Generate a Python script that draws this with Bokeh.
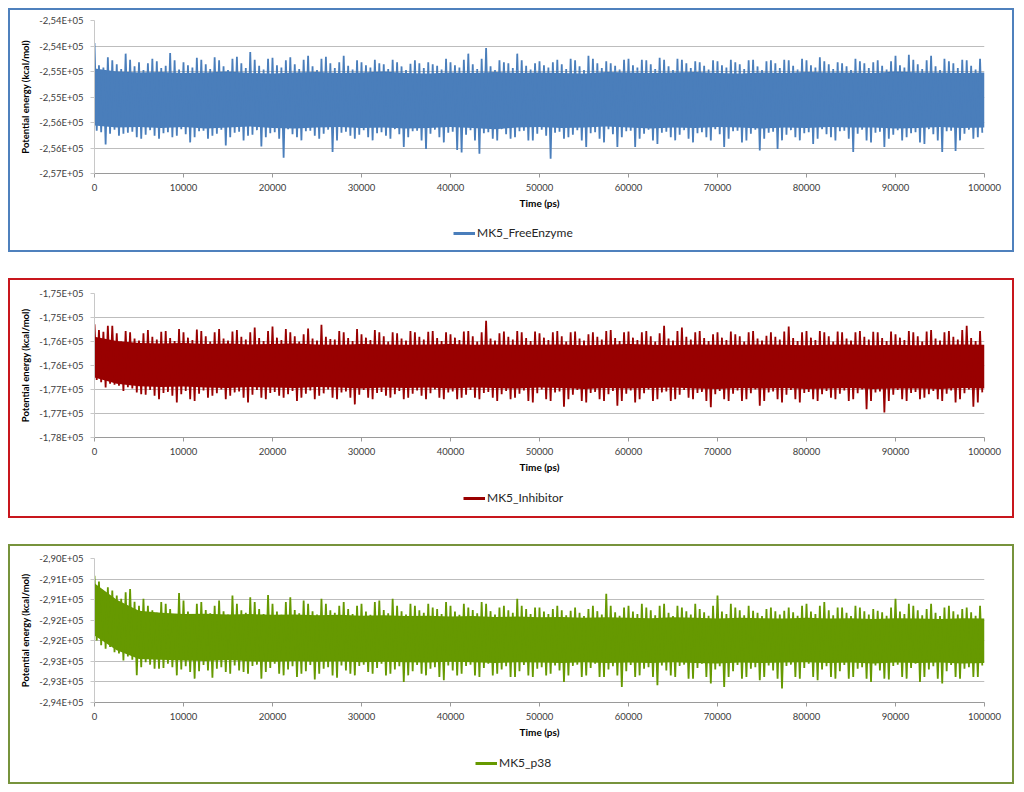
from bokeh.plotting import figure
from bokeh.layouts import column, row
from bokeh.models import Range1d, FixedTicker, Legend, LegendItem, Spacer
from bokeh.embed import file_html
from bokeh.resources import INLINE

# ---------------- data ----------------
time_ticks = [0, 10000, 20000, 30000, 40000, 50000, 60000, 70000, 80000, 90000, 100000]
time_tick_labels = ["0", "10000", "20000", "30000", "40000", "50000",
                    "60000", "70000", "80000", "90000", "100000"]

# one upward and one downward excursion per 500 ps
step_start = list(range(0, 100000, 500))

# dense core of each trace, sampled every 2500 ps
core_time = list(range(0, 100001, 2500))

# --- MK5_FreeEnzyme ---
free_name = "MK5_FreeEnzyme"
free_hi = [-253940, -254380, -254420, -254220, -254280, -254360, -254450, -254150, -254270, -254400,
           -254320, -254470, -254340, -254250, -254300, -254430, -254390, -254140, -254280, -254460,
           -254320, -254380, -254420, -254230, -254270, -254360, -254450, -254220, -254280, -254400,
           -254470, -254250, -254210, -254340, -254430, -254120, -254270, -254390, -254460, -254250,
           -254230, -254380, -254420, -254280, -254220, -254360, -254450, -254270, -254190, -254400,
           -254470, -254250, -254210, -254340, -254430, -254320, -254190, -254390, -254460, -254280,
           -254320, -254380, -254420, -254270, -254340, -254360, -254450, -254270, -254320, -254400,
           -254470, -254350, -254280, -254340, -254430, -254320, -254360, -254390, -254460, -254250,
           -254320, -254380, -254420, -254270, -254150, -254360, -254450, -254250, -254040, -254400,
           -254470, -254280, -254320, -254340, -254430, -254150, -254280, -254390, -254460, -254340,
           -254300, -254380, -254420, -254320, -254270, -254360, -254450, -254250, -254280, -254400,
           -254470, -254190, -254250, -254340, -254430, -254300, -254340, -254390, -254460, -254270,
           -254250, -254380, -254420, -254270, -254280, -254360, -254450, -254230, -254270, -254400,
           -254470, -254250, -254270, -254340, -254430, -254300, -254320, -254390, -254460, -254280,
           -254300, -254380, -254420, -254270, -254320, -254360, -254450, -254280, -254270, -254400,
           -254470, -254300, -254280, -254340, -254430, -254270, -254280, -254390, -254460, -254250,
           -254280, -254380, -254420, -254220, -254300, -254360, -254450, -254320, -254340, -254400,
           -254470, -254250, -254300, -254340, -254430, -254320, -254280, -254390, -254460, -254300,
           -254190, -254380, -254420, -254170, -254270, -254360, -254450, -254280, -254190, -254400,
           -254470, -254250, -254300, -254340, -254430, -254270, -254280, -254390, -254460, -254250]
free_lo = [-255660, -255690, -255930, -255720, -255640, -255760, -255720, -255700, -255680, -255790,
           -255820, -255740, -255650, -255760, -255820, -255710, -255690, -255790, -255760, -255630,
           -255730, -255890, -255790, -255670, -255660, -255820, -255760, -255720, -255640, -255950,
           -255790, -255700, -255680, -255850, -255760, -255740, -255650, -255970, -255790, -255710,
           -255690, -255820, -256190, -255630, -255730, -255790, -255850, -255670, -255660, -255760,
           -255820, -255720, -255640, -256080, -255850, -255700, -255680, -255760, -255820, -255740,
           -255650, -255790, -255850, -255710, -255690, -255760, -255820, -255630, -255730, -255980,
           -255790, -255670, -255660, -255850, -256020, -255720, -255640, -255790, -255890, -255700,
           -255680, -256040, -256090, -255740, -255650, -255850, -256110, -255710, -255690, -255820,
           -255850, -255630, -255730, -255820, -255790, -255670, -255660, -255850, -255850, -255720,
           -255640, -255760, -256210, -255700, -255680, -255820, -255790, -255740, -255650, -255850,
           -255980, -255710, -255690, -255820, -255890, -255630, -255730, -255980, -255790, -255670,
           -255660, -255980, -255820, -255720, -255640, -255850, -255920, -255700, -255680, -255790,
           -255850, -255740, -255650, -255820, -255890, -255710, -255690, -255790, -255850, -255630,
           -255730, -255980, -255820, -255670, -255660, -255890, -255850, -255720, -255640, -256050,
           -255820, -255700, -255680, -256020, -255850, -255740, -255650, -255790, -255850, -255710,
           -255690, -255920, -255820, -255630, -255730, -255790, -255850, -255670, -255660, -255820,
           -256080, -255720, -255640, -255850, -255890, -255700, -255680, -255980, -255820, -255740,
           -255650, -255850, -255790, -255710, -255690, -255890, -255920, -255630, -255730, -255850,
           -256080, -255670, -255660, -256060, -255850, -255720, -255640, -255820, -255790, -255700]
free_core_top = [-254440, -254500, -254520, -254510, -254530, -254520, -254500, -254530, -254540, -254520,
                 -254510, -254530, -254520, -254500, -254530, -254540, -254520, -254530, -254510, -254530,
                 -254520, -254530, -254540, -254510, -254520, -254530, -254520, -254510, -254530, -254540,
                 -254520, -254530, -254510, -254520, -254520, -254530, -254500, -254520, -254520, -254530,
                 -254520]
free_core_bottom = [-255560, -255600, -255590, -255610, -255590, -255620, -255600, -255580, -255610, -255620,
                    -255600, -255590, -255610, -255600, -255620, -255610, -255590, -255610, -255630, -255600,
                    -255590, -255610, -255600, -255580, -255600, -255620, -255600, -255610, -255590, -255600,
                    -255620, -255600, -255610, -255590, -255600, -255600, -255620, -255610, -255590, -255610,
                    -255600]
free_y_ticks = [-256500, -256000, -255500, -255000, -254500, -254000, -253500]
free_y_labels = ["-2,57E+05", "-2,56E+05", "-2,56E+05", "-2,55E+05", "-2,55E+05", "-2,54E+05", "-2,54E+05"]

# --- MK5_Inhibitor ---
inh_name = "MK5_Inhibitor"
inh_hi = [-175140, -175260, -175300, -175170, -175170, -175330, -175500, -175280, -175310, -175440,
          -175480, -175330, -175260, -175400, -175460, -175300, -175280, -175430, -175490, -175240,
          -175310, -175420, -175470, -175250, -175280, -175390, -175500, -175310, -175240, -175440,
          -175480, -175290, -175260, -175400, -175460, -175310, -175210, -175430, -175490, -175280,
          -175190, -175420, -175470, -175240, -175310, -175390, -175500, -175350, -175230, -175440,
          -175480, -175150, -175400, -175450, -175460, -175280, -175310, -175430, -175490, -175240,
          -175350, -175420, -175470, -175260, -175310, -175390, -175500, -175310, -175330, -175440,
          -175480, -175280, -175310, -175400, -175460, -175300, -175280, -175430, -175490, -175310,
          -175350, -175420, -175470, -175290, -175280, -175390, -175500, -175310, -175070, -175440,
          -175480, -175330, -175290, -175400, -175460, -175280, -175310, -175430, -175490, -175290,
          -175330, -175420, -175470, -175310, -175280, -175390, -175500, -175310, -175290, -175440,
          -175480, -175350, -175310, -175400, -175460, -175280, -175260, -175430, -175490, -175310,
          -175290, -175420, -175470, -175310, -175280, -175390, -175500, -175330, -175170, -175440,
          -175480, -175280, -175210, -175400, -175460, -175310, -175280, -175430, -175490, -175350,
          -175310, -175420, -175470, -175290, -175350, -175390, -175500, -175310, -175280, -175440,
          -175480, -175380, -175310, -175400, -175460, -175290, -175190, -175430, -175490, -175310,
          -175280, -175420, -175470, -175280, -175310, -175390, -175500, -175290, -175310, -175440,
          -175480, -175310, -175280, -175400, -175460, -175300, -175310, -175430, -175490, -175290,
          -175350, -175420, -175470, -175280, -175310, -175390, -175500, -175290, -175260, -175440,
          -175480, -175310, -175280, -175400, -175460, -175260, -175170, -175430, -175490, -175280]
inh_lo = [-176300, -176350, -176460, -176380, -176400, -176420, -176530, -176450, -176480, -176560,
          -176600, -176610, -176510, -176630, -176700, -176570, -176550, -176630, -176770, -176600,
          -176530, -176700, -176740, -176590, -176520, -176670, -176630, -176580, -176500, -176700,
          -176630, -176560, -176540, -176670, -176770, -176610, -176510, -176670, -176700, -176570,
          -176550, -176630, -176670, -176600, -176530, -176740, -176670, -176590, -176520, -176700,
          -176630, -176580, -176500, -176670, -176700, -176560, -176540, -176670, -176810, -176610,
          -176510, -176670, -176700, -176570, -176550, -176630, -176670, -176600, -176530, -176700,
          -176670, -176590, -176520, -176630, -176700, -176580, -176500, -176670, -176700, -176560,
          -176540, -176700, -176670, -176610, -176510, -176670, -176700, -176570, -176550, -176670,
          -176740, -176600, -176530, -176700, -176670, -176590, -176520, -176740, -176770, -176580,
          -176500, -176700, -176740, -176560, -176540, -176860, -176700, -176610, -176510, -176740,
          -176770, -176570, -176550, -176700, -176740, -176600, -176530, -176840, -176740, -176590,
          -176520, -176770, -176700, -176580, -176500, -176740, -176700, -176560, -176540, -176740,
          -176700, -176610, -176510, -176670, -176700, -176570, -176550, -176740, -176870, -176600,
          -176530, -176700, -176740, -176590, -176520, -176740, -176700, -176580, -176500, -176840,
          -176740, -176560, -176540, -176700, -176770, -176610, -176510, -176700, -176770, -176570,
          -176550, -176700, -176740, -176600, -176530, -176670, -176700, -176590, -176520, -176740,
          -176700, -176580, -176500, -176910, -176740, -176560, -176540, -176980, -176740, -176610,
          -176510, -176700, -176740, -176570, -176550, -176700, -176670, -176600, -176530, -176700,
          -176740, -176590, -176520, -176770, -176700, -176580, -176500, -176860, -176770, -176560]
inh_core_top = [-175400, -175490, -175530, -175540, -175530, -175550, -175540, -175560, -175550, -175540,
                -175560, -175570, -175550, -175560, -175570, -175560, -175550, -175570, -175560, -175570,
                -175570, -175560, -175580, -175570, -175550, -175570, -175580, -175560, -175570, -175570,
                -175560, -175570, -175580, -175570, -175560, -175580, -175570, -175580, -175570, -175560,
                -175570]
inh_core_bottom = [-176250, -176380, -176430, -176450, -176440, -176460, -176470, -176450, -176460, -176470,
                   -176450, -176460, -176480, -176460, -176470, -176460, -176480, -176460, -176470, -176480,
                   -176460, -176470, -176490, -176470, -176480, -176470, -176460, -176480, -176490, -176470,
                   -176480, -176470, -176490, -176480, -176470, -176490, -176480, -176480, -176490, -176470,
                   -176480]
inh_y_ticks = [-177500, -177000, -176500, -176000, -175500, -175000, -174500]
inh_y_labels = ["-1,78E+05", "-1,77E+05", "-1,77E+05", "-1,76E+05", "-1,76E+05", "-1,75E+05", "-1,75E+05"]

# --- MK5_p38 ---
p38_name = "MK5_p38"
p38_hi = [-290420, -290560, -290820, -290700, -290780, -290900, -290980, -290820, -290740, -291050,
          -291150, -290980, -291150, -291260, -291320, -291060, -291100, -291230, -291350, -290840,
          -291020, -291290, -291370, -291100, -291060, -291250, -291330, -291150, -291020, -291280,
          -291360, -290900, -291100, -291260, -291320, -290940, -291060, -291230, -291350, -290890,
          -291100, -291290, -291370, -291060, -290940, -291250, -291330, -291020, -291100, -291280,
          -291360, -290980, -291100, -291260, -291320, -291150, -291060, -291230, -291350, -291150,
          -291100, -291290, -291370, -291060, -291020, -291250, -291330, -290980, -291150, -291280,
          -291360, -291100, -291150, -291260, -291320, -291100, -291190, -291230, -291350, -291060,
          -291150, -291290, -291370, -291100, -291190, -291250, -291330, -291060, -291100, -291280,
          -291360, -291190, -291150, -291260, -291320, -290980, -291150, -291230, -291350, -291190,
          -291190, -291290, -291350, -291230, -291150, -291260, -291380, -291270, -291190, -291320,
          -291400, -291230, -291150, -291280, -291360, -290860, -291150, -291310, -291390, -291190,
          -291150, -291290, -291350, -291100, -291190, -291260, -291380, -291150, -291100, -291320,
          -291400, -291150, -291190, -291280, -291360, -291100, -291230, -291310, -291390, -291150,
          -290900, -291290, -291350, -291100, -291190, -291260, -291380, -291150, -291270, -291320,
          -291400, -291230, -291190, -291280, -291360, -291270, -291190, -291310, -291390, -291150,
          -291100, -291290, -291350, -291150, -291060, -291260, -291380, -291190, -291190, -291320,
          -291400, -291150, -291190, -291280, -291360, -291230, -291270, -291310, -291390, -291190,
          -290980, -291290, -291350, -291100, -291150, -291260, -291380, -291230, -291100, -291320,
          -291400, -291190, -291150, -291280, -291360, -291230, -291190, -291310, -291390, -291150]
p38_lo = [-291990, -292110, -292190, -292150, -292280, -292310, -292480, -292380, -292460, -292840,
          -292640, -292520, -292580, -292680, -292680, -292660, -292560, -292640, -292840, -292700,
          -292620, -292760, -292920, -292740, -292590, -292720, -292900, -292680, -292640, -292760,
          -292800, -292600, -292720, -292760, -292800, -292610, -292580, -292920, -292760, -292660,
          -292560, -292800, -292840, -292700, -292620, -292880, -292800, -292740, -292590, -292940,
          -292800, -292680, -292640, -292840, -292900, -292600, -292720, -292800, -292840, -292610,
          -292580, -292760, -292800, -292660, -292560, -292840, -292800, -292700, -292620, -293000,
          -292840, -292740, -292590, -292800, -292840, -292680, -292640, -292880, -292960, -292600,
          -292720, -292840, -292800, -292610, -292580, -292840, -292880, -292660, -292560, -292840,
          -292800, -292700, -292620, -292880, -292880, -292740, -292590, -292840, -292880, -292680,
          -292640, -292840, -292800, -292600, -292720, -293000, -292840, -292610, -292580, -292880,
          -292840, -292660, -292560, -292880, -292880, -292700, -292620, -292840, -293120, -292740,
          -292590, -292880, -292840, -292680, -292640, -292880, -293080, -292600, -292720, -292840,
          -292880, -292610, -292580, -292920, -292920, -292660, -292560, -292880, -293040, -292700,
          -292620, -293120, -292880, -292740, -292590, -292920, -292880, -292680, -292640, -292960,
          -292880, -292600, -292720, -292920, -293160, -292610, -292580, -292880, -292920, -292660,
          -292560, -292880, -292960, -292700, -292620, -292880, -292920, -292740, -292590, -292920,
          -292880, -292680, -292640, -292920, -293000, -292600, -292720, -292920, -292940, -292610,
          -292580, -292880, -292920, -292660, -292560, -293000, -292880, -292700, -292620, -292920,
          -293040, -292740, -292590, -292880, -292920, -292680, -292640, -292880, -292880, -292600]
p38_core_top = [-290600, -291000, -291270, -291320, -291350, -291340, -291360, -291350, -291370, -291360,
                -291380, -291370, -291390, -291380, -291400, -291390, -291410, -291400, -291420, -291410,
                -291430, -291420, -291440, -291430, -291440, -291450, -291430, -291440, -291460, -291440,
                -291450, -291460, -291440, -291460, -291450, -291470, -291450, -291460, -291470, -291450,
                -291460]
p38_core_bottom = [-291870, -292230, -292440, -292460, -292480, -292490, -292470, -292500, -292510, -292490,
                   -292510, -292500, -292520, -292510, -292520, -292530, -292510, -292520, -292540, -292520,
                   -292530, -292540, -292520, -292540, -292530, -292540, -292520, -292540, -292550, -292530,
                   -292540, -292530, -292520, -292540, -292530, -292550, -292530, -292540, -292530, -292550,
                   -292540]
p38_y_ticks = [-293500, -293000, -292500, -292000, -291500, -291000, -290500, -290000]
p38_y_labels = ["-2,94E+05", "-2,93E+05", "-2,93E+05", "-2,92E+05", "-2,92E+05", "-2,91E+05",
                "-2,91E+05", "-2,90E+05"]

FONT = "Lato"


def make_panel(name, color, frame_color, hi, lo, core_top, core_bottom, y_ticks, y_labels,
               chart_h, legend_h, mb_top, legend_x, legend_y):
    p = figure(width=1002, height=chart_h, output_backend="svg", toolbar_location=None,
               x_range=Range1d(0, 100000), y_range=Range1d(min(y_ticks), max(y_ticks)),
               min_border_left=84, min_border_right=28, min_border_top=mb_top,
               min_border_bottom=42)
    p.outline_line_color = None
    p.background_fill_color = "white"
    p.border_fill_color = "white"

    # dense core + alternating high/low excursions
    p.varea(x=core_time, y1=core_bottom, y2=core_top, fill_color=color)
    zx, zy = [], []
    for t, h, l in zip(step_start, hi, lo):
        zx += [t, t + 250]
        zy += [h, l]
    p.line(x=zx, y=zy, line_color=color, line_width=1.8)

    p.xgrid.visible = False
    p.ygrid.grid_line_color = "#BDBDBD"
    p.ygrid.grid_line_width = 1
    p.ygrid.ticker = FixedTicker(ticks=y_ticks)

    ya = p.yaxis[0]
    ya.ticker = FixedTicker(ticks=y_ticks)
    ya.major_label_overrides = dict(zip(y_ticks, y_labels))
    ya.axis_label = "Potential energy (kcal/mol)"
    ya.axis_label_text_font = FONT
    ya.axis_label_text_font_style = "bold"
    ya.axis_label_text_font_size = "9.5px"
    ya.axis_label_text_color = "#000000"
    ya.axis_label_standoff = 5
    ya.major_label_text_font = FONT
    ya.major_label_text_font_size = "9.5px"
    ya.major_label_text_color = "#404040"
    ya.major_label_standoff = 7
    ya.axis_line_color = "#C8C8C8"
    ya.major_tick_line_color = "#C8C8C8"
    ya.major_tick_out = 4
    ya.major_tick_in = 0
    ya.minor_tick_line_color = None

    xa = p.xaxis[0]
    xa.ticker = FixedTicker(ticks=time_ticks)
    xa.major_label_overrides = dict(zip(time_ticks, time_tick_labels))
    xa.axis_label = "Time (ps)"
    xa.axis_label_text_font = FONT
    xa.axis_label_text_font_style = "bold"
    xa.axis_label_text_font_size = "10px"
    xa.axis_label_text_color = "#000000"
    xa.axis_label_standoff = 3
    xa.major_label_text_font = FONT
    xa.major_label_text_font_size = "9.5px"
    xa.major_label_text_color = "#404040"
    xa.major_label_standoff = 6
    xa.axis_line_color = "#9A9A9A"
    xa.major_tick_line_color = "#9A9A9A"
    xa.major_tick_out = 4
    xa.major_tick_in = 0
    xa.minor_tick_line_color = None

    # legend row: its own small canvas so nothing is clipped; the key renderer
    # carries the series itself, which lies outside this canvas' view
    q = figure(width=1002, height=legend_h, output_backend="svg", toolbar_location=None,
               x_range=Range1d(0, 1), y_range=Range1d(0, 1),
               x_axis_type=None, y_axis_type=None,
               min_border_left=0, min_border_right=0, min_border_top=0, min_border_bottom=0)
    q.outline_line_color = None
    q.xgrid.visible = False
    q.ygrid.visible = False
    key = q.line(x=zx, y=zy, line_color=color, line_width=3)
    legend = Legend(items=[LegendItem(label=name, renderers=[key])],
                    location=(legend_x, legend_y), orientation="horizontal",
                    padding=3, margin=0, spacing=0,
                    glyph_width=22, glyph_height=14, label_height=14,
                    label_standoff=2, label_text_font=FONT, label_text_font_size="12px",
                    label_text_color="#262626",
                    border_line_color=None, background_fill_alpha=0)
    q.add_layout(legend, "center")

    return column(p, q, spacing=0, styles={"border": "2px solid " + frame_color})


b1 = make_panel(free_name, "#4A7EBB", "#4F81BD", free_hi, free_lo, free_core_top, free_core_bottom,
                free_y_ticks, free_y_labels, 205, 35, 10, 359, 10)
b2 = make_panel(inh_name, "#990000", "#C8161D", inh_hi, inh_lo, inh_core_top, inh_core_bottom,
                inh_y_ticks, inh_y_labels, 199, 37, 13, 369, 11)
b3 = make_panel(p38_name, "#669900", "#77933C", p38_hi, p38_lo, p38_core_top, p38_core_bottom,
                p38_y_ticks, p38_y_labels, 198, 38, 12, 381, 12)

panels = column(b1, b2, b3, spacing=26)
layout = row(Spacer(width=8), column(Spacer(height=8), panels, spacing=0), spacing=0)
open("out.html", "w").write(file_html(layout, INLINE))
